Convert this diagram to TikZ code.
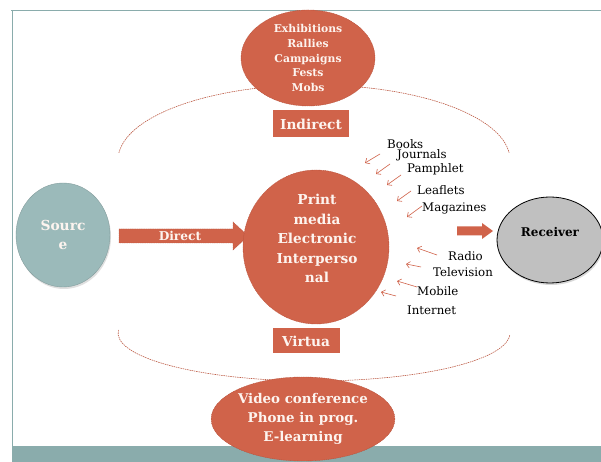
\documentclass[tikz,border=0pt]{standalone}
\usepackage{fontspec}
\setmainfont{DejaVu Serif}
\usetikzlibrary{arrows.meta,shadows,shapes.geometric}

\definecolor{brick}{HTML}{D0634A}
\definecolor{brickline}{HTML}{B9513A}
\definecolor{slate}{HTML}{9BBABA}
\definecolor{band}{HTML}{8AACAC}
\definecolor{silver}{HTML}{C0C0C0}
\definecolor{paper}{HTML}{FDF4EF}

\begin{document}
\begin{tikzpicture}[x=1pt,y=1pt,
  blob/.style={ellipse, fill=brick, draw=brickline, line width=0.4pt,
    dash pattern=on 1.2pt off 0.6pt, inner sep=0pt, text=paper, align=center},
  tag/.style={fill=brick, text=paper, inner sep=0pt,
    font=\bfseries\fontsize{13.7}{16}\selectfont},
  lighttext/.style={text=paper, align=center, inner sep=0pt},
  medialabel/.style={anchor=west, inner sep=0pt, text=black,
    font=\fontsize{11.8}{13}\selectfont},
  feed/.style={brick, line width=0.6pt, -{Straight Barb[length=3.5pt,width=6.5pt]}},
  guide/.style={brickline, line width=0.55pt, dash pattern=on 1.5pt off 0.8pt},
  blockarrow/.style={fill=brick, draw=brickline, line width=0.4pt,
    dash pattern=on 1.2pt off 0.6pt}
]
\useasboundingbox (0,0) rectangle (601,462);
\fill[white] (0,0) rectangle (601,462);

% slide frame and footer band
\draw[band, line width=1pt] (11,451) -- (601,451);
\draw[band, line width=1pt] (12,451) -- (12,16);
\fill[band] (12,0) rectangle (601,16);

% dashed arcs around the media circle
\draw[guide] (118.9,309.1) arc[start angle=174.6, end angle=5.4,
  x radius=196pt, y radius=75pt];
\draw[guide] (118.4,132.0) arc[start angle=176.4, end angle=357.6,
  x radius=196pt, y radius=48pt];

% indirect events
\node[blob, minimum width=134pt, minimum height=96pt,
  font=\bfseries\fontsize{10.8}{14.8}\selectfont] (events) at (308,404)
  {Exhibitions\\Rallies\\Campaigns\\Fests\\Mobs};
\node[tag, minimum width=76pt, minimum height=27pt] (indirect) at (311,338) {Indirect};

% virtual channels
\node[blob, minimum width=174pt, minimum height=84pt,
  font=\bfseries\fontsize{13.4}{19}\selectfont] (online) at (303,43)
  {Video conference\\Phone in prog.\\E-learning};
\node[tag, minimum width=67pt, minimum height=25pt] (virtual) at (306,121) {Virtua};

% source
\node[ellipse, fill=slate, draw=slate!85!black, line width=0.4pt,
  drop shadow={opacity=0.25, shadow xshift=1pt, shadow yshift=-2pt},
  minimum width=94pt, minimum height=104pt, inner sep=0pt,
  text=paper, align=center, font=\bfseries\fontsize{13.8}{19}\selectfont]
  (source) at (63,227) {Sourc\\e};

% direct route
\draw[blockarrow] (119,233) -- (233,233) -- (233,240) -- (248,226)
  -- (233,212) -- (233,219) -- (119,219) -- cycle;
\node[lighttext, font=\bfseries\fontsize{12.2}{14}\selectfont] (direct) at (180,226) {Direct};

% media circle
\node[blob, minimum width=146pt, minimum height=154pt] (media) at (316,215) {};
\node[lighttext, font=\bfseries\fontsize{13.7}{19.5}\selectfont] (mediatext)
  at (317,223.5) {Print\\media\\Electronic\\Interperso\\nal};

% receiver
\node[ellipse, fill=silver, draw=black, line width=0.8pt,
  drop shadow={opacity=0.3, shadow xshift=1pt, shadow yshift=-2pt},
  minimum width=106pt, minimum height=86pt] (receiver) at (550,222) {};
\node[inner sep=0pt, text=black, font=\bfseries\fontsize{12}{14}\selectfont]
  (receivertext) at (550,230) {Receiver};
\draw[blockarrow, draw=none] (457,235.5) -- (482,235.5) -- (482,239) -- (493,231)
  -- (482,223) -- (482,226.5) -- (457,226.5) -- cycle;

% media labels
\node[medialabel] (books)    at (387,317.5) {Books};
\node[medialabel] (journals) at (397,306.5) {Journals};
\node[medialabel] (pamphlet) at (407,293) {Pamphlet};
\node[medialabel] (leaflets) at (417,272) {Leaflets};
\node[medialabel] (magazines) at (422,254) {Magazines};
\node[medialabel] (radio)    at (448,206) {Radio};
\node[medialabel] (tv)       at (433,190) {Television};
\node[medialabel] (mobile)   at (417,171) {Mobile};
\node[medialabel] (internet) at (407,152) {Internet};

% arrows from the labels towards the media circle
\foreach \n/\ax/\ay/\bx/\by in {
  books/380/308/365/299, journals/390/298/376/288, pamphlet/401/287/387/277,
  leaflets/411/271/397/261, magazines/422/256/407/245, radio/437/207/417/214,
  tv/421/195/406/198, mobile/417/175/397/181, internet/396/166/381/170}{
  \coordinate (\n-tail) at (\ax,\ay);
  \coordinate (\n-tip) at (\bx,\by);
  \draw[feed] (\n-tail) -- (\n-tip);
}
\end{tikzpicture}
\end{document}
